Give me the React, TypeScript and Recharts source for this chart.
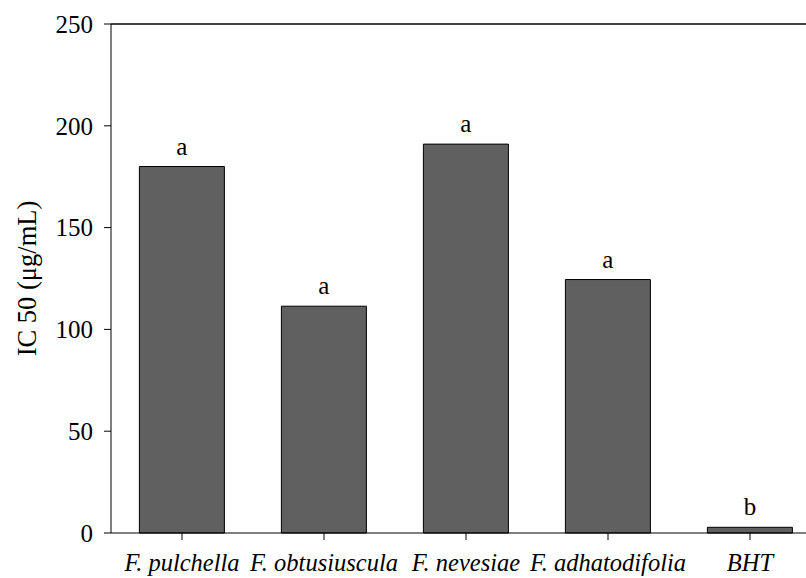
import React from 'react';
import { BarChart, Bar, XAxis, YAxis, LabelList, ReferenceLine } from 'recharts';

const categories = ['F. pulchella', 'F. obtusiuscula', 'F. nevesiae', 'F. adhatodifolia', 'BHT'];
const ic50Values = [180, 111.4, 191, 124.5, 2.8];
const letters = ['a', 'a', 'a', 'a', 'b'];
const yTicks = [0, 50, 100, 150, 200, 250];

const data = categories.map((name, i) => ({ name, value: ic50Values[i], letter: letters[i] }));

const FONT = '"Liberation Serif", "Times New Roman", serif';

export default function App() {
  return (
    <div style={{ position: 'absolute', left: 0, top: 0, width: 806, height: 578, overflow: 'hidden', background: '#fff' }}>
      <BarChart
        width={821}
        height={578}
        data={data}
        margin={{ top: 24, right: 0, bottom: 0, left: 0 }}
        barCategoryGap="20%"
      >
        <XAxis
          dataKey="name"
          interval={0}
          height={45}
          tickSize={7}
          tickMargin={14}
          axisLine={{ stroke: '#000', strokeWidth: 1 }}
          tickLine={{ stroke: '#000' }}
          tick={{ fill: '#000', fontSize: 24.5, fontStyle: 'italic', fontFamily: FONT }}
        />
        <YAxis
          width={111}
          domain={[0, 250]}
          ticks={yTicks}
          tickSize={7}
          tickMargin={11}
          axisLine={{ stroke: '#000', strokeWidth: 1 }}
          tickLine={{ stroke: '#000' }}
          tick={{ fill: '#000', fontSize: 25, fontFamily: FONT }}
          label={{
            value: 'IC 50 (μg/mL)',
            angle: -90,
            position: 'insideLeft',
            offset: 27,
            style: { textAnchor: 'middle', fill: '#000', fontSize: 26.5, fontFamily: FONT },
          }}
        />
        <ReferenceLine y={250} stroke="#404040" strokeWidth={2} />
        <Bar dataKey="value" fill="#606060" stroke="#000" strokeWidth={1} isAnimationActive={false}>
          <LabelList
            dataKey="letter"
            position="top"
            offset={12}
            style={{ fill: '#000', fontSize: 25, fontFamily: FONT }}
          />
        </Bar>
      </BarChart>
    </div>
  );
}
